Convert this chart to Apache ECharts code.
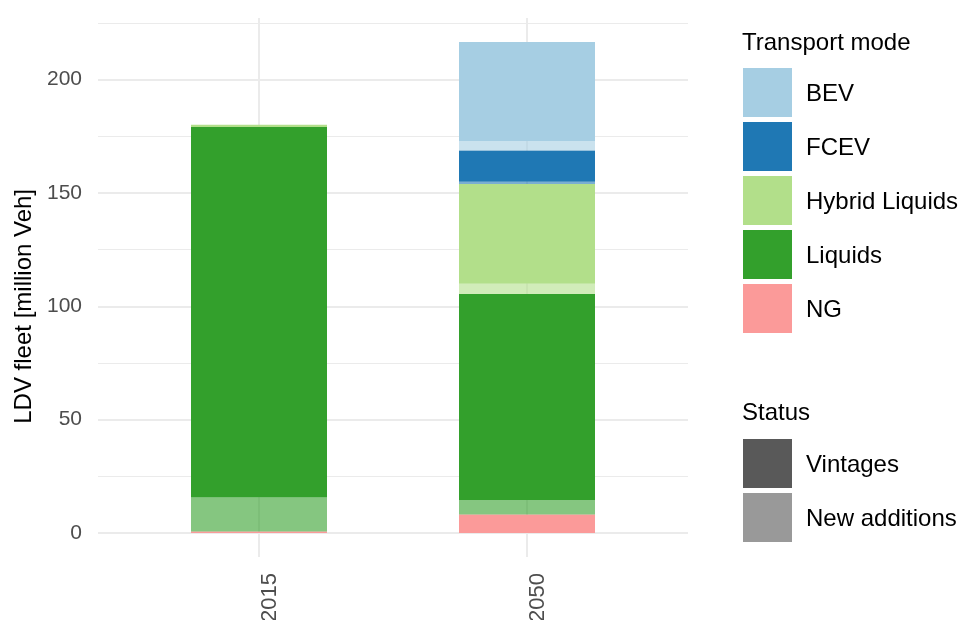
<!DOCTYPE html>
<html lang="en">
<head>
<meta charset="UTF-8">
<title>LDV fleet</title>
<script src="https://cdn.jsdelivr.net/npm/echarts@6/dist/echarts.min.js"></script>
<style>
  html, body { margin: 0; padding: 0; background: #fff; }
  #chart { width: 977px; height: 620px; }
</style>
</head>
<body>
<div id="chart"></div>
<script>
// data (million vehicles)
const years = ['2015', '2050'];
const modes = ['NG', 'Liquids', 'Hybrid Liquids', 'FCEV', 'BEV']; // stack order, bottom -> top
const modeColors = ['#fb9a99', '#33a02c', '#b2df8a', '#1f78b4', '#a6cee3'];
const newAdditions = [
  [0, 0],      // NG
  [15.1, 6.5], // Liquids
  [0, 4.5],    // Hybrid Liquids
  [0, 1.0],    // FCEV
  [0, 4.2]     // BEV
];
const vintages = [
  [0.6, 8.1],
  [163.4, 90.8],
  [1.0, 44.1],
  [0, 13.7],
  [0, 43.7]
];
const legendModes = ['BEV', 'FCEV', 'Hybrid Liquids', 'Liquids', 'NG'];
const statusNames = ['Vintages', 'New additions'];
const statusColors = ['#595959', '#999999'];

const font = '"Liberation Sans", Arial, sans-serif';
const chart = echarts.init(document.getElementById('chart'));

// bar series: each mode has new additions (faded) under vintages (full)
const series = [];
modes.forEach((m, i) => {
  series.push({
    name: m + ' - New additions', type: 'bar', stack: 'fleet',
    xAxisIndex: 2, yAxisIndex: 2, barWidth: 136, z: 3,
    itemStyle: { color: modeColors[i], opacity: 0.6 },
    data: newAdditions[i]
  });
  series.push({
    name: m + ' - Vintages', type: 'bar', stack: 'fleet',
    xAxisIndex: 2, yAxisIndex: 2, barWidth: 136, z: 3,
    itemStyle: { color: modeColors[i] },
    data: vintages[i]
  });
});
// vertical grid lines at the category positions (under the bars)
series.push({
  type: 'line', xAxisIndex: 2, yAxisIndex: 2, data: [], z: 0,
  markLine: {
    z: 0, silent: true, symbol: 'none', animation: false,
    label: { show: false },
    lineStyle: { color: '#ebebeb', width: 2, type: 'solid' },
    data: years.map(y => ({ xAxis: y }))
  }
});

// legend drawn as graphics
const graphic = [];
graphic.push({ type: 'text', left: 742, top: 31, style: { text: 'Transport mode', font: '24px ' + font, fill: '#000' } });
legendModes.forEach((m, k) => {
  const y = 68 + k * 54;
  graphic.push({ type: 'rect', shape: { x: 743, y: y, width: 49, height: 49 }, style: { fill: modeColors[modes.indexOf(m)] } });
  graphic.push({ type: 'text', x: 806, y: y + 26, style: { text: m, font: '24px ' + font, fill: '#000', verticalAlign: 'middle' } });
});
graphic.push({ type: 'text', left: 742, top: 401, style: { text: 'Status', font: '24px ' + font, fill: '#000' } });
statusNames.forEach((s, k) => {
  const y = 439 + k * 54;
  graphic.push({ type: 'rect', shape: { x: 743, y: y, width: 49, height: 49 }, style: { fill: statusColors[k] } });
  graphic.push({ type: 'text', x: 806, y: y + 26, style: { text: s, font: '24px ' + font, fill: '#000', verticalAlign: 'middle' } });
});

const option = {
  animation: false,
  textStyle: { fontFamily: font },
  grid: [
    { left: 98, right: 289, top: 23, bottom: 87, outerBoundsMode: 'none' },    // minor lines
    { left: 98, right: 289, top: 79.7, bottom: 87, outerBoundsMode: 'none' },  // major lines + labels
    { left: 125, right: 316, top: 18, bottom: 63, outerBoundsMode: 'none' }    // bars
  ],
  xAxis: [
    { gridIndex: 0, type: 'value', min: 0, max: 1, show: false },
    { gridIndex: 1, type: 'value', min: 0, max: 1, show: false },
    {
      gridIndex: 2, type: 'category', data: years,
      axisLine: { show: false, onZero: false }, axisTick: { show: false },
      axisLabel: { rotate: 90, margin: 16, fontSize: 22, color: '#4d4d4d', verticalAlign: 'top' }
    }
  ],
  yAxis: [
    {
      gridIndex: 0, type: 'value', min: 0, max: 225, interval: 25,
      axisLine: { show: false }, axisTick: { show: false }, axisLabel: { show: false },
      splitLine: { lineStyle: { color: '#ebebeb', width: 1 } }
    },
    {
      gridIndex: 1, type: 'value', min: 0, max: 200, interval: 50,
      name: 'LDV fleet [million Veh]', nameLocation: 'middle', nameGap: 55, nameRotate: 90,
      nameTextStyle: { fontSize: 24, color: '#000' },
      axisLine: { show: false }, axisTick: { show: false },
      axisLabel: { margin: 16, fontSize: 21, color: '#4d4d4d' },
      splitLine: { lineStyle: { color: '#ebebeb', width: 2 } }
    },
    { gridIndex: 2, type: 'value', min: -10.6, max: 227.2, show: false }
  ],
  series: series,
  graphic: graphic
};
chart.setOption(option);
</script>
</body>
</html>
